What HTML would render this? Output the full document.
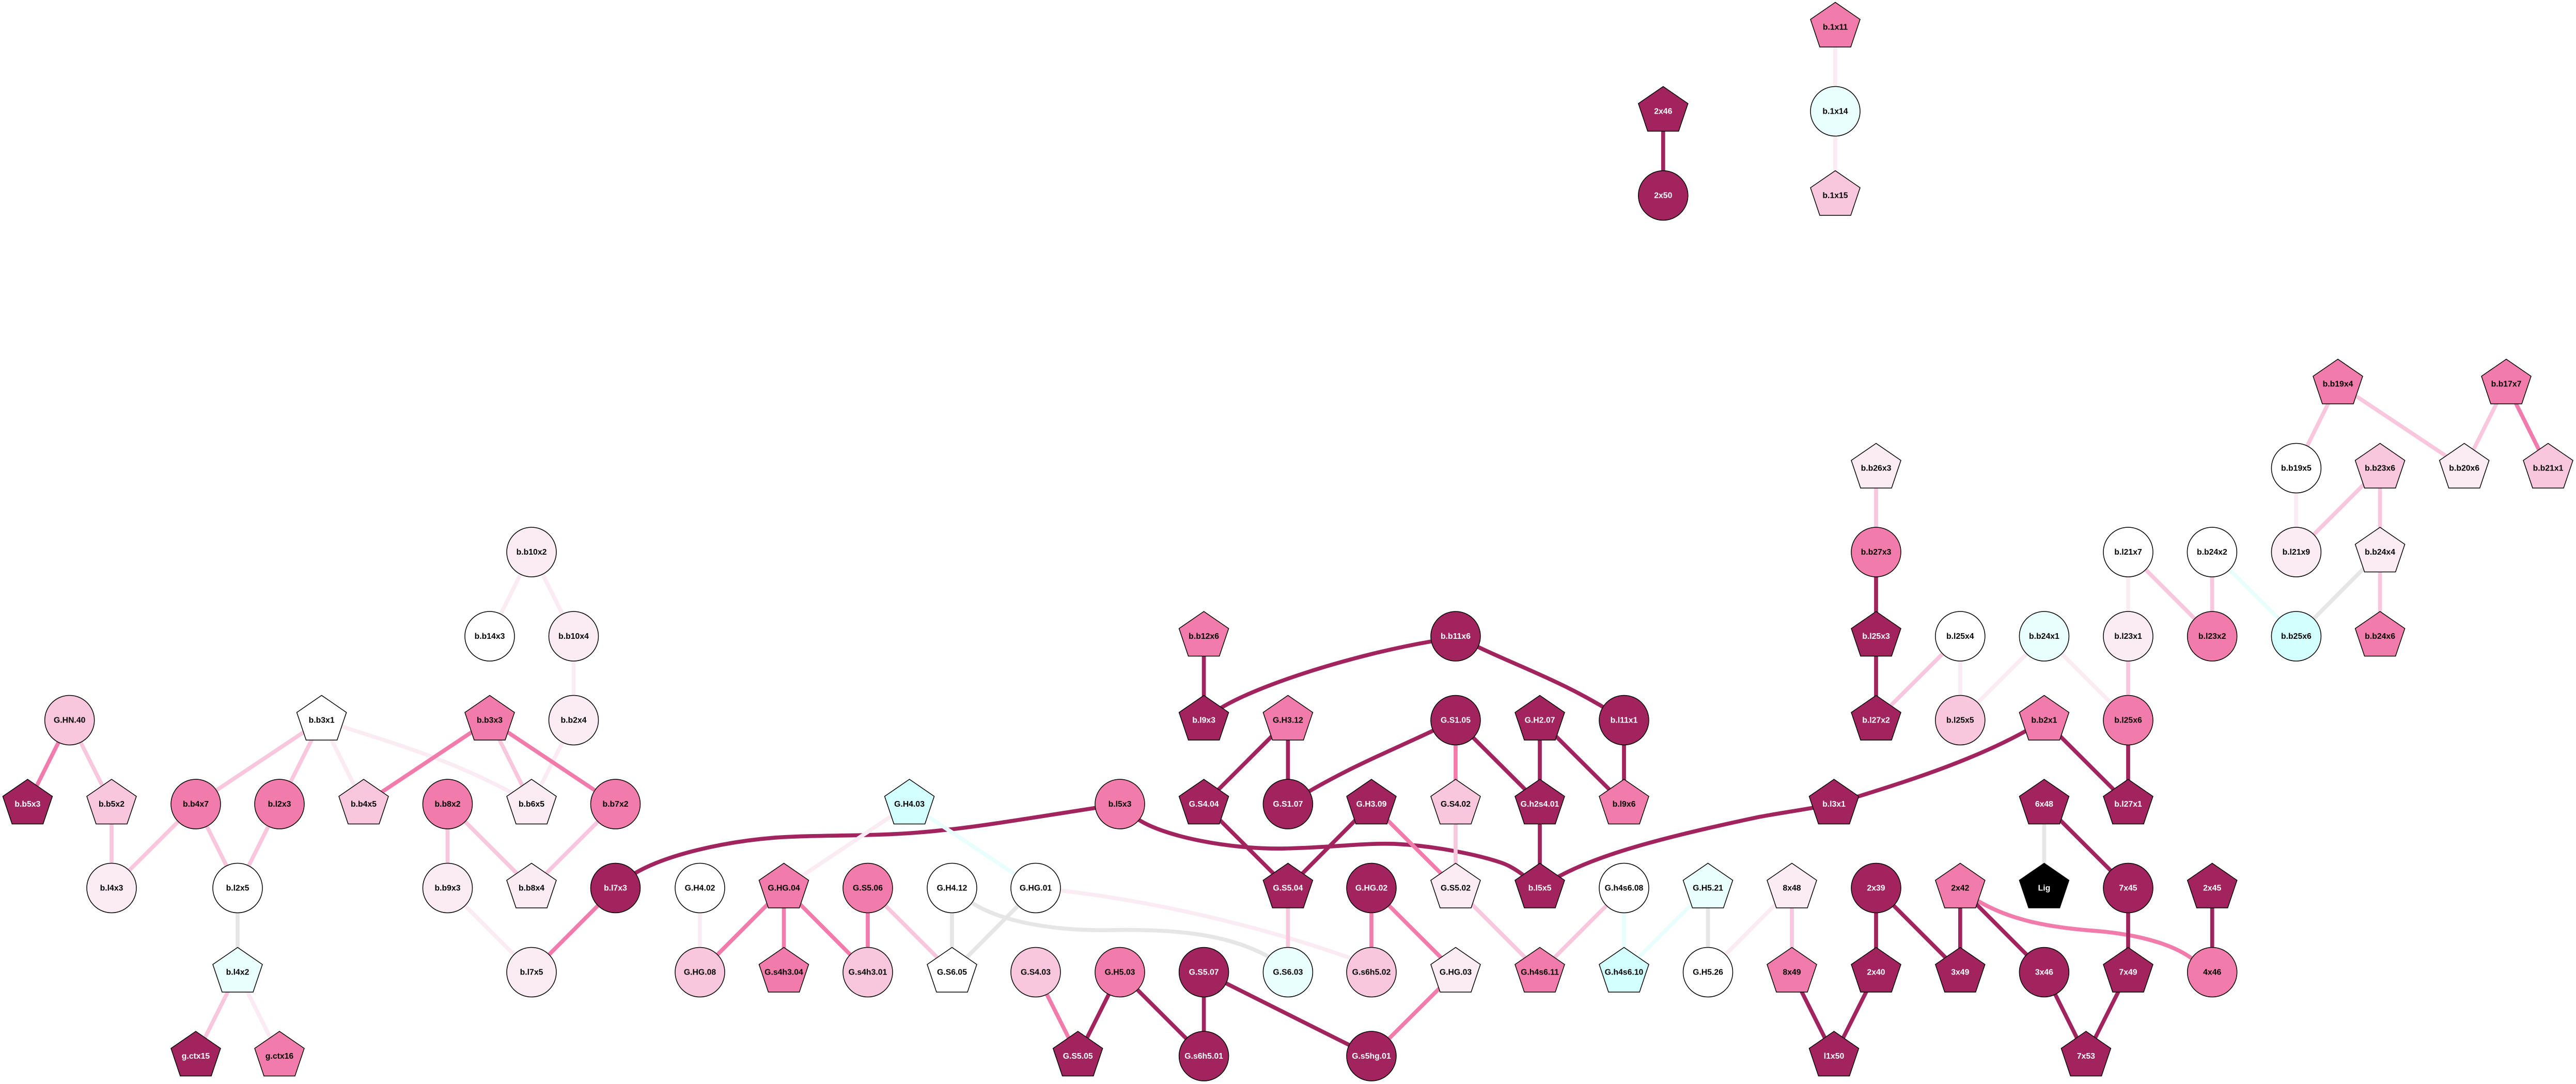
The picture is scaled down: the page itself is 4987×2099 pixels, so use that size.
<!DOCTYPE html>
<html>
<head>
<meta charset="utf-8">
<style>
html,body{margin:0;padding:0;background:#fff;width:4987px;height:2099px;overflow:hidden}
svg{display:block}
text{font-family:"Liberation Sans",Arial,sans-serif;font-weight:bold;font-size:15.8px;text-anchor:middle;fill:#000}
.e path{fill:none;stroke-width:7.7;stroke-linecap:butt}
.n circle,.n polygon{stroke:#000;stroke-width:1.5}
.w>*{fill:#fff}.v>*{fill:#fbebf3}.l>*{fill:#f9c7dd}.p>*{fill:#f17cab}.d>*{fill:#a1245f}.c>*{fill:#e8fffd}.y>*{fill:#d2ffff}.k>*{fill:#000}
.n g text{fill:#000;stroke:none}.n g.d text,.n g.k text{fill:#fff}
</style>
</head>
<body>
<svg xmlns="http://www.w3.org/2000/svg" width="4987" height="2099" viewBox="0 0 4987 2099">
<rect width="4987" height="2099" fill="#fff"/>
<g class="e">
<path stroke="#a1245f" d="M1191.5 1719.5L1229 1691C1290 1655 1400 1630 1500 1622C1600 1615 1700 1622 1830 1607C1900 1600 2000 1583 2168 1557"/>
<path stroke="#a1245f" d="M2168 1557L2204 1587C2255 1620 2380 1645 2487 1643C2580 1641 2640 1632 2700 1634C2780 1638 2860 1655 2905 1670C2930 1678 2950 1695 2981 1719.5"/>
<path stroke="#a1245f" d="M2981 1719.5C3060 1665 3180 1630 3400 1583C3440 1575 3480 1570 3550.5 1557"/>
<path stroke="#a1245f" d="M3550.5 1557C3650 1525 3830 1475 3957.4 1394.5"/>
<path stroke="#a1245f" d="M2330.6 1394.5L2365 1370C2440 1325 2620 1268 2771 1242L2818 1232"/>
<path stroke="#a1245f" d="M2818 1232L2862 1253C2950 1295 3040 1325 3144 1394.5"/>
<path stroke="#a1245f" d="M2818 1394.5L2774 1415C2690 1455 2600 1490 2493.4 1557"/>
<path stroke="#fbebf3" d="M622.6 1394.5L666 1408C780 1445 900 1480 1029 1557"/>
<path stroke="#e6e6e6" d="M1843 1719.5L1883 1749C1940 1785 2040 1803 2150 1801C2260 1799 2370 1805 2455 1852L2493.4 1882.5"/>
<path stroke="#fbebf3" d="M2005 1719.5L2051 1724C2230 1745 2430 1790 2614 1855L2655 1882.5"/>
<path stroke="#f17cab" d="M3794.8 1719.5L3830 1745C3890 1780 3960 1795 4050 1802C4130 1808 4200 1825 4242 1855L4282.7 1882.5"/>
<path stroke="#fbebf3" d="M1029 1069L948 1232M1029 1069L1110.5 1232M1110.5 1232L1110.5 1394.5M1110.5 1394.5L1029 1557M622.6 1394.5L704 1557M460 1882.5L541 2045M866.5 1719.5L1029 1882.5M1760.6 1557L1517.5 1719.5M1355 1719.5L1355 1882.5M3469 1719.5L3306.5 1882.5M3794.8 1232L3794.8 1394.5M3957.4 1232L3794.8 1394.5M3957.4 1232L4120 1394.5M4120 1069L4120 1232M4445.4 906.5L4445.4 1069M3553 52.5L3553 215.5M3553 215.5L3553 378.5"/>
<path stroke="#e8fffd" d="M1760.6 1557L2005 1719.5M3144 1719.5L3144 1882.5M3306.5 1719.5L3144 1882.5M4282.4 1069L4445.4 1232"/>
<path stroke="#e6e6e6" d="M460 1719.5L460 1882.5M1843 1719.5L1843 1882.5M2005 1719.5L1843 1882.5M3306.5 1719.5L3306.5 1882.5M3957.4 1557L3957.4 1719.5M4607.6 1069L4445.4 1232"/>
<path stroke="#f9c7dd" d="M134.7 1394.5L216 1557M216 1557L216 1719.5M622.6 1394.5L379 1557M622.6 1394.5L541 1557M948 1394.5L1029 1557M379 1557L216 1719.5M379 1557L460 1719.5M541 1557L460 1719.5M460 1882.5L379 2045M866.5 1557L866.5 1719.5M866.5 1557L1029 1719.5M1191.5 1557L1029 1719.5M1680 1719.5L1843 1882.5M2818 1557L2818 1719.5M2493.4 1719.5L2493.4 1882.5M2818 1719.5L2981 1882.5M3144 1719.5L2981 1882.5M3469 1719.5L3469 1882.5M3794.8 1232L3632 1394.5M4120 1232L4120 1394.5M4120 1069L4282.7 1232M4282.4 1069L4282.7 1232M3632 906.5L3632 1069M4526 743.5L4445.4 906.5M4526 743.5L4770.7 906.5M4852 743.5L4770.7 906.5M4607.6 906.5L4445.4 1069M4607.6 906.5L4607.6 1069M4607.6 1069L4607.6 1232"/>
<path stroke="#f17cab" d="M134.7 1394.5L53.4 1557M948 1394.5L704 1557M948 1394.5L1191.5 1557M1191.5 1719.5L1029 1882.5M1517.5 1719.5L1355 1882.5M1517.5 1719.5L1517.5 1882.5M1517.5 1719.5L1680 1882.5M1680 1719.5L1680 1882.5M2005 1882.5L2086.7 2045M2818 1394.5L2818 1557M2655 1557L2818 1719.5M2655 1719.5L2655 1882.5M2655 1719.5L2818 1882.5M2818 1882.5L2655 2045M4852 743.5L4933 906.5"/>
<path stroke="#a1245f" d="M2168 1882.5L2086.7 2045M2168 1882.5L2330.6 2045M2330.6 1882.5L2330.6 2045M2330.6 1882.5L2655 2045M2330.6 1232L2330.6 1394.5M2493.4 1394.5L2330.6 1557M2493.4 1394.5L2493.4 1557M2818 1394.5L2981 1557M2981 1394.5L2981 1557M2981 1394.5L3144 1557M3144 1394.5L3144 1557M2330.6 1557L2493.4 1719.5M2655 1557L2493.4 1719.5M2981 1557L2981 1719.5M3632 1069L3632 1232M3632 1232L3632 1394.5M3957.4 1394.5L4120 1557M4120 1394.5L4120 1557M3957.4 1557L4120 1719.5M4120 1719.5L4120 1882.5M4282.7 1719.5L4282.7 1882.5M3632 1719.5L3632 1882.5M3632 1719.5L3794.8 1882.5M3794.8 1719.5L3794.8 1882.5M3794.8 1719.5L3957.4 1882.5M3469 1882.5L3550.5 2045M3632 1882.5L3550.5 2045M3957.4 1882.5L4038.4 2045M4120 1882.5L4038.4 2045M3219.8 215.5L3219.8 378.5"/>
</g>
<g class="n">
<g class="p" transform="translate(3553,52.5)"><polygon points="0,-48 48,-15 30,38.5 -30,38.5 -48,-15"/><text y="4.8">b.1x11</text></g>
<g class="c" transform="translate(3553,215.5)"><circle r="48"/><text y="4.8">b.1x14</text></g>
<g class="l" transform="translate(3553,378.5)"><polygon points="0,-48 48,-15 30,38.5 -30,38.5 -48,-15"/><text y="4.8">b.1x15</text></g>
<g class="d" transform="translate(3219.8,215.5)"><polygon points="0,-48 48,-15 30,38.5 -30,38.5 -48,-15"/><text y="4.8">2x46</text></g>
<g class="d" transform="translate(3219.8,378.5)"><circle r="48"/><text y="4.8">2x50</text></g>

<g class="p" transform="translate(4526,743.5)"><polygon points="0,-48 48,-15 30,38.5 -30,38.5 -48,-15"/><text y="4.8">b.b19x4</text></g>
<g class="p" transform="translate(4852,743.5)"><polygon points="0,-48 48,-15 30,38.5 -30,38.5 -48,-15"/><text y="4.8">b.b17x7</text></g>
<g class="v" transform="translate(3632,906.5)"><polygon points="0,-48 48,-15 30,38.5 -30,38.5 -48,-15"/><text y="4.8">b.b26x3</text></g>
<g class="w" transform="translate(4445.4,906.5)"><circle r="48"/><text y="4.8">b.b19x5</text></g>
<g class="l" transform="translate(4607.6,906.5)"><polygon points="0,-48 48,-15 30,38.5 -30,38.5 -48,-15"/><text y="4.8">b.b23x6</text></g>
<g class="v" transform="translate(4770.7,906.5)"><polygon points="0,-48 48,-15 30,38.5 -30,38.5 -48,-15"/><text y="4.8">b.b20x6</text></g>
<g class="l" transform="translate(4933,906.5)"><polygon points="0,-48 48,-15 30,38.5 -30,38.5 -48,-15"/><text y="4.8">b.b21x1</text></g>

<g class="v" transform="translate(1029,1069)"><circle r="48"/><text y="4.8">b.b10x2</text></g>
<g class="p" transform="translate(3632,1069)"><circle r="48"/><text y="4.8">b.b27x3</text></g>
<g class="w" transform="translate(4120,1069)"><circle r="48"/><text y="4.8">b.l21x7</text></g>
<g class="w" transform="translate(4282.4,1069)"><circle r="48"/><text y="4.8">b.b24x2</text></g>
<g class="v" transform="translate(4445.4,1069)"><circle r="48"/><text y="4.8">b.l21x9</text></g>
<g class="v" transform="translate(4607.6,1069)"><polygon points="0,-48 48,-15 30,38.5 -30,38.5 -48,-15"/><text y="4.8">b.b24x4</text></g>

<g class="w" transform="translate(948,1232)"><circle r="48"/><text y="4.8">b.b14x3</text></g>
<g class="v" transform="translate(1110.5,1232)"><circle r="48"/><text y="4.8">b.b10x4</text></g>
<g class="p" transform="translate(2330.6,1232)"><polygon points="0,-48 48,-15 30,38.5 -30,38.5 -48,-15"/><text y="4.8">b.b12x6</text></g>
<g class="d" transform="translate(2818,1232)"><circle r="48"/><text y="4.8">b.b11x6</text></g>
<g class="d" transform="translate(3632,1232)"><polygon points="0,-48 48,-15 30,38.5 -30,38.5 -48,-15"/><text y="4.8">b.l25x3</text></g>
<g class="w" transform="translate(3794.8,1232)"><circle r="48"/><text y="4.8">b.l25x4</text></g>
<g class="c" transform="translate(3957.4,1232)"><circle r="48"/><text y="4.8">b.b24x1</text></g>
<g class="v" transform="translate(4120,1232)"><circle r="48"/><text y="4.8">b.l23x1</text></g>
<g class="p" transform="translate(4282.7,1232)"><circle r="48"/><text y="4.8">b.l23x2</text></g>
<g class="y" transform="translate(4445.4,1232)"><circle r="48"/><text y="4.8">b.b25x6</text></g>
<g class="p" transform="translate(4607.6,1232)"><polygon points="0,-48 48,-15 30,38.5 -30,38.5 -48,-15"/><text y="4.8">b.b24x6</text></g>

<g class="l" transform="translate(134.7,1394.5)"><circle r="48"/><text y="4.8">G.HN.40</text></g>
<g class="w" transform="translate(622.6,1394.5)"><polygon points="0,-48 48,-15 30,38.5 -30,38.5 -48,-15"/><text y="4.8">b.b3x1</text></g>
<g class="p" transform="translate(948,1394.5)"><polygon points="0,-48 48,-15 30,38.5 -30,38.5 -48,-15"/><text y="4.8">b.b3x3</text></g>
<g class="v" transform="translate(1110.5,1394.5)"><circle r="48"/><text y="4.8">b.b2x4</text></g>
<g class="d" transform="translate(2330.6,1394.5)"><polygon points="0,-48 48,-15 30,38.5 -30,38.5 -48,-15"/><text y="4.8">b.l9x3</text></g>
<g class="p" transform="translate(2493.4,1394.5)"><polygon points="0,-48 48,-15 30,38.5 -30,38.5 -48,-15"/><text y="4.8">G.H3.12</text></g>
<g class="d" transform="translate(2818,1394.5)"><circle r="48"/><text y="4.8">G.S1.05</text></g>
<g class="d" transform="translate(2981,1394.5)"><polygon points="0,-48 48,-15 30,38.5 -30,38.5 -48,-15"/><text y="4.8">G.H2.07</text></g>
<g class="d" transform="translate(3144,1394.5)"><circle r="48"/><text y="4.8">b.l11x1</text></g>
<g class="d" transform="translate(3632,1394.5)"><polygon points="0,-48 48,-15 30,38.5 -30,38.5 -48,-15"/><text y="4.8">b.l27x2</text></g>
<g class="l" transform="translate(3794.8,1394.5)"><circle r="48"/><text y="4.8">b.l25x5</text></g>
<g class="p" transform="translate(3957.4,1394.5)"><polygon points="0,-48 48,-15 30,38.5 -30,38.5 -48,-15"/><text y="4.8">b.b2x1</text></g>
<g class="p" transform="translate(4120,1394.5)"><circle r="48"/><text y="4.8">b.l25x6</text></g>

<g class="d" transform="translate(53.4,1557)"><polygon points="0,-48 48,-15 30,38.5 -30,38.5 -48,-15"/><text y="4.8">b.b5x3</text></g>
<g class="l" transform="translate(216,1557)"><polygon points="0,-48 48,-15 30,38.5 -30,38.5 -48,-15"/><text y="4.8">b.b5x2</text></g>
<g class="p" transform="translate(379,1557)"><circle r="48"/><text y="4.8">b.b4x7</text></g>
<g class="p" transform="translate(541,1557)"><circle r="48"/><text y="4.8">b.l2x3</text></g>
<g class="l" transform="translate(704,1557)"><polygon points="0,-48 48,-15 30,38.5 -30,38.5 -48,-15"/><text y="4.8">b.b4x5</text></g>
<g class="p" transform="translate(866.5,1557)"><circle r="48"/><text y="4.8">b.b8x2</text></g>
<g class="v" transform="translate(1029,1557)"><polygon points="0,-48 48,-15 30,38.5 -30,38.5 -48,-15"/><text y="4.8">b.b6x5</text></g>
<g class="p" transform="translate(1191.5,1557)"><circle r="48"/><text y="4.8">b.b7x2</text></g>
<g class="y" transform="translate(1760.6,1557)"><polygon points="0,-48 48,-15 30,38.5 -30,38.5 -48,-15"/><text y="4.8">G.H4.03</text></g>
<g class="p" transform="translate(2168,1557)"><circle r="48"/><text y="4.8">b.l5x3</text></g>
<g class="d" transform="translate(2330.6,1557)"><polygon points="0,-48 48,-15 30,38.5 -30,38.5 -48,-15"/><text y="4.8">G.S4.04</text></g>
<g class="d" transform="translate(2493.4,1557)"><circle r="48"/><text y="4.8">G.S1.07</text></g>
<g class="d" transform="translate(2655,1557)"><polygon points="0,-48 48,-15 30,38.5 -30,38.5 -48,-15"/><text y="4.8">G.H3.09</text></g>
<g class="l" transform="translate(2818,1557)"><polygon points="0,-48 48,-15 30,38.5 -30,38.5 -48,-15"/><text y="4.8">G.S4.02</text></g>
<g class="d" transform="translate(2981,1557)"><polygon points="0,-48 48,-15 30,38.5 -30,38.5 -48,-15"/><text y="4.8">G.h2s4.01</text></g>
<g class="p" transform="translate(3144,1557)"><polygon points="0,-48 48,-15 30,38.5 -30,38.5 -48,-15"/><text y="4.8">b.l9x6</text></g>
<g class="d" transform="translate(3550.5,1557)"><polygon points="0,-48 48,-15 30,38.5 -30,38.5 -48,-15"/><text y="4.8">b.l3x1</text></g>
<g class="d" transform="translate(3957.4,1557)"><polygon points="0,-48 48,-15 30,38.5 -30,38.5 -48,-15"/><text y="4.8">6x48</text></g>
<g class="d" transform="translate(4120,1557)"><polygon points="0,-48 48,-15 30,38.5 -30,38.5 -48,-15"/><text y="4.8">b.l27x1</text></g>

<g class="v" transform="translate(216,1719.5)"><circle r="48"/><text y="4.8">b.l4x3</text></g>
<g class="w" transform="translate(460,1719.5)"><circle r="48"/><text y="4.8">b.l2x5</text></g>
<g class="v" transform="translate(866.5,1719.5)"><circle r="48"/><text y="4.8">b.b9x3</text></g>
<g class="v" transform="translate(1029,1719.5)"><polygon points="0,-48 48,-15 30,38.5 -30,38.5 -48,-15"/><text y="4.8">b.b8x4</text></g>
<g class="d" transform="translate(1191.5,1719.5)"><circle r="48"/><text y="4.8">b.l7x3</text></g>
<g class="w" transform="translate(1355,1719.5)"><circle r="48"/><text y="4.8">G.H4.02</text></g>
<g class="p" transform="translate(1517.5,1719.5)"><polygon points="0,-48 48,-15 30,38.5 -30,38.5 -48,-15"/><text y="4.8">G.HG.04</text></g>
<g class="p" transform="translate(1680,1719.5)"><circle r="48"/><text y="4.8">G.S5.06</text></g>
<g class="w" transform="translate(1843,1719.5)"><circle r="48"/><text y="4.8">G.H4.12</text></g>
<g class="w" transform="translate(2005,1719.5)"><circle r="48"/><text y="4.8">G.HG.01</text></g>
<g class="d" transform="translate(2493.4,1719.5)"><polygon points="0,-48 48,-15 30,38.5 -30,38.5 -48,-15"/><text y="4.8">G.S5.04</text></g>
<g class="d" transform="translate(2655,1719.5)"><circle r="48"/><text y="4.8">G.HG.02</text></g>
<g class="v" transform="translate(2818,1719.5)"><polygon points="0,-48 48,-15 30,38.5 -30,38.5 -48,-15"/><text y="4.8">G.S5.02</text></g>
<g class="d" transform="translate(2981,1719.5)"><polygon points="0,-48 48,-15 30,38.5 -30,38.5 -48,-15"/><text y="4.8">b.l5x5</text></g>
<g class="w" transform="translate(3144,1719.5)"><circle r="48"/><text y="4.8">G.h4s6.08</text></g>
<g class="c" transform="translate(3306.5,1719.5)"><polygon points="0,-48 48,-15 30,38.5 -30,38.5 -48,-15"/><text y="4.8">G.H5.21</text></g>
<g class="v" transform="translate(3469,1719.5)"><polygon points="0,-48 48,-15 30,38.5 -30,38.5 -48,-15"/><text y="4.8">8x48</text></g>
<g class="d" transform="translate(3632,1719.5)"><circle r="48"/><text y="4.8">2x39</text></g>
<g class="p" transform="translate(3794.8,1719.5)"><polygon points="0,-48 48,-15 30,38.5 -30,38.5 -48,-15"/><text y="4.8">2x42</text></g>
<g class="k" transform="translate(3957.4,1719.5)"><polygon points="0,-48 48,-15 30,38.5 -30,38.5 -48,-15"/><text y="4.8">Lig</text></g>
<g class="d" transform="translate(4120,1719.5)"><circle r="48"/><text y="4.8">7x45</text></g>
<g class="d" transform="translate(4282.7,1719.5)"><polygon points="0,-48 48,-15 30,38.5 -30,38.5 -48,-15"/><text y="4.8">2x45</text></g>

<g class="c" transform="translate(460,1882.5)"><polygon points="0,-48 48,-15 30,38.5 -30,38.5 -48,-15"/><text y="4.8">b.l4x2</text></g>
<g class="v" transform="translate(1029,1882.5)"><circle r="48"/><text y="4.8">b.l7x5</text></g>
<g class="l" transform="translate(1355,1882.5)"><circle r="48"/><text y="4.8">G.HG.08</text></g>
<g class="p" transform="translate(1517.5,1882.5)"><polygon points="0,-48 48,-15 30,38.5 -30,38.5 -48,-15"/><text y="4.8">G.s4h3.04</text></g>
<g class="l" transform="translate(1680,1882.5)"><circle r="48"/><text y="4.8">G.s4h3.01</text></g>
<g class="w" transform="translate(1843,1882.5)"><polygon points="0,-48 48,-15 30,38.5 -30,38.5 -48,-15"/><text y="4.8">G.S6.05</text></g>
<g class="l" transform="translate(2005,1882.5)"><circle r="48"/><text y="4.8">G.S4.03</text></g>
<g class="p" transform="translate(2168,1882.5)"><circle r="48"/><text y="4.8">G.H5.03</text></g>
<g class="d" transform="translate(2330.6,1882.5)"><circle r="48"/><text y="4.8">G.S5.07</text></g>
<g class="c" transform="translate(2493.4,1882.5)"><circle r="48"/><text y="4.8">G.S6.03</text></g>
<g class="l" transform="translate(2655,1882.5)"><circle r="48"/><text y="4.8">G.s6h5.02</text></g>
<g class="v" transform="translate(2818,1882.5)"><polygon points="0,-48 48,-15 30,38.5 -30,38.5 -48,-15"/><text y="4.8">G.HG.03</text></g>
<g class="p" transform="translate(2981,1882.5)"><polygon points="0,-48 48,-15 30,38.5 -30,38.5 -48,-15"/><text y="4.8">G.h4s6.11</text></g>
<g class="y" transform="translate(3144,1882.5)"><polygon points="0,-48 48,-15 30,38.5 -30,38.5 -48,-15"/><text y="4.8">G.h4s6.10</text></g>
<g class="w" transform="translate(3306.5,1882.5)"><circle r="48"/><text y="4.8">G.H5.26</text></g>
<g class="p" transform="translate(3469,1882.5)"><polygon points="0,-48 48,-15 30,38.5 -30,38.5 -48,-15"/><text y="4.8">8x49</text></g>
<g class="d" transform="translate(3632,1882.5)"><polygon points="0,-48 48,-15 30,38.5 -30,38.5 -48,-15"/><text y="4.8">2x40</text></g>
<g class="d" transform="translate(3794.8,1882.5)"><polygon points="0,-48 48,-15 30,38.5 -30,38.5 -48,-15"/><text y="4.8">3x49</text></g>
<g class="d" transform="translate(3957.4,1882.5)"><circle r="48"/><text y="4.8">3x46</text></g>
<g class="d" transform="translate(4120,1882.5)"><polygon points="0,-48 48,-15 30,38.5 -30,38.5 -48,-15"/><text y="4.8">7x49</text></g>
<g class="p" transform="translate(4282.7,1882.5)"><circle r="48"/><text y="4.8">4x46</text></g>

<g class="d" transform="translate(379,2045)"><polygon points="0,-48 48,-15 30,38.5 -30,38.5 -48,-15"/><text y="4.8">g.ctx15</text></g>
<g class="p" transform="translate(541,2045)"><polygon points="0,-48 48,-15 30,38.5 -30,38.5 -48,-15"/><text y="4.8">g.ctx16</text></g>
<g class="d" transform="translate(2086.7,2045)"><polygon points="0,-48 48,-15 30,38.5 -30,38.5 -48,-15"/><text y="4.8">G.S5.05</text></g>
<g class="d" transform="translate(2330.6,2045)"><circle r="48"/><text y="4.8">G.s6h5.01</text></g>
<g class="d" transform="translate(2655,2045)"><circle r="48"/><text y="4.8">G.s5hg.01</text></g>
<g class="d" transform="translate(3550.5,2045)"><polygon points="0,-48 48,-15 30,38.5 -30,38.5 -48,-15"/><text y="4.8">l1x50</text></g>
<g class="d" transform="translate(4038.4,2045)"><polygon points="0,-48 48,-15 30,38.5 -30,38.5 -48,-15"/><text y="4.8">7x53</text></g>
</g>
</svg>
</body>
</html>
